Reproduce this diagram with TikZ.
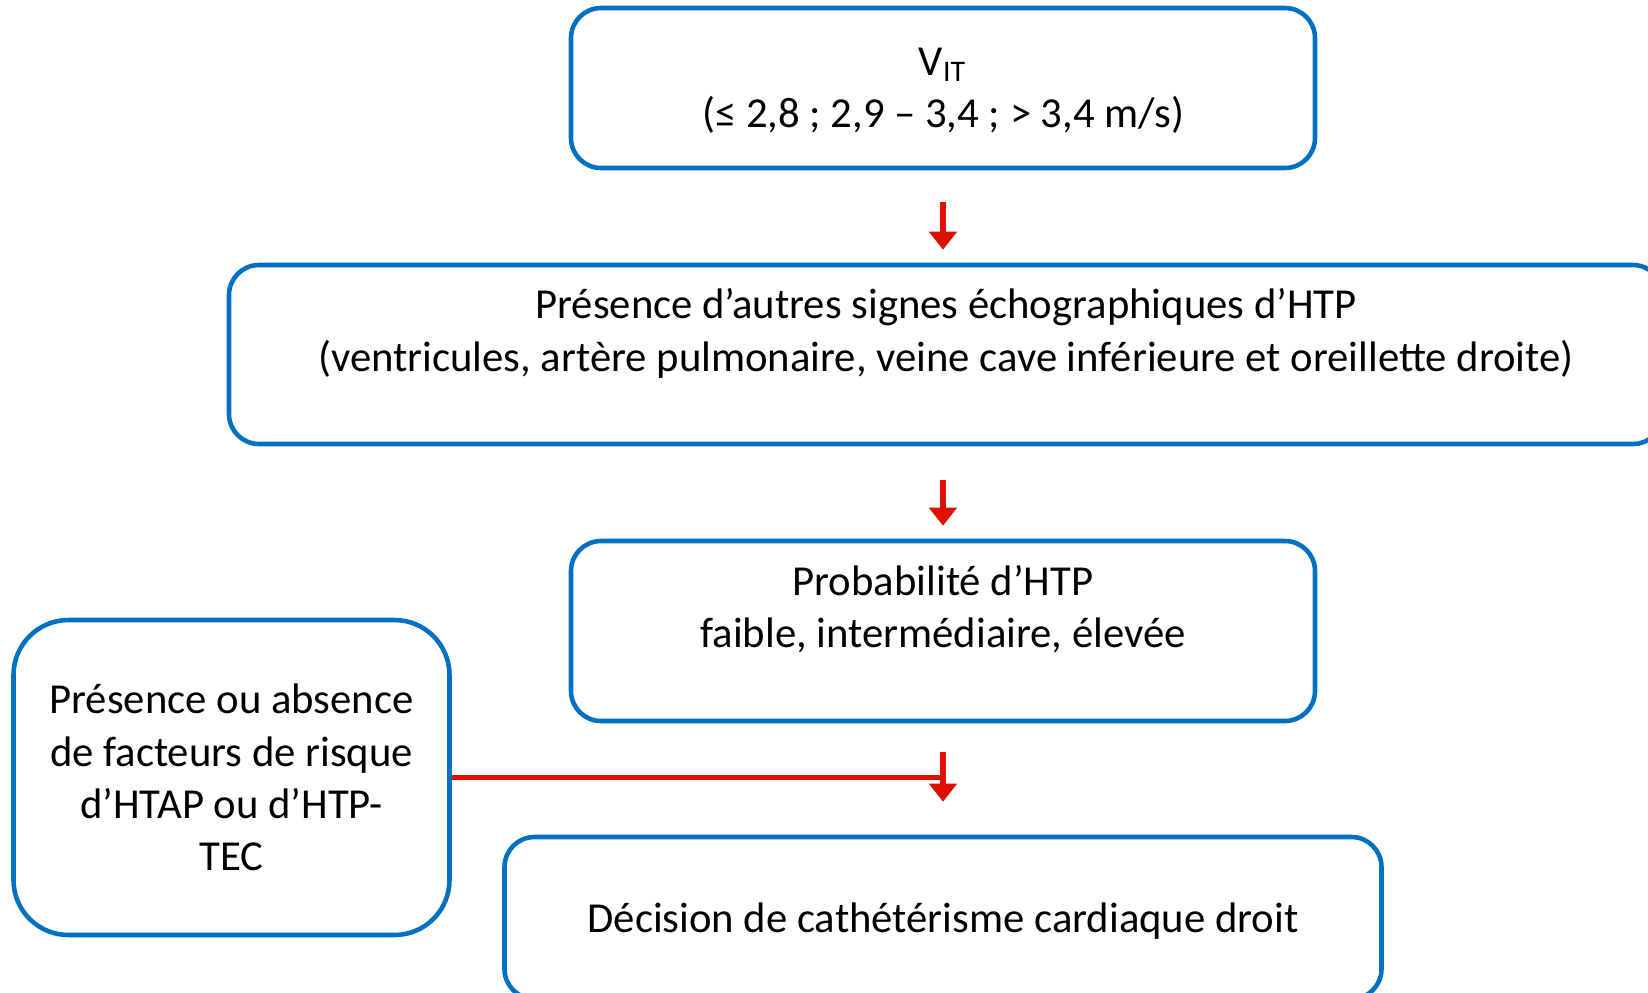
\documentclass[tikz,border=0pt]{standalone}
\usepackage{fontspec}
\setmainfont{Carlito}
\usetikzlibrary{positioning}
\usetikzlibrary{arrows.meta}
\definecolor{boxblue}{RGB}{0,112,192}
\definecolor{arrowred}{RGB}{221,17,0}
\tikzstyle{box} = [rectangle, rounded corners=0.3cm,
draw=boxblue,
line width=1.3pt,
fill=white,
text centered,
text depth=0pt,
align=center,
font=\fontsize{12.15}{14.9}\selectfont]
\tikzstyle{topbox} = [box, text depth=0.49cm] % text sits high in these two
\tikzstyle{sidebox} = [box, rounded corners=0.55cm]
\tikzstyle{arrow} = [arrowred, line width=1.6pt, -{Triangle[width=0.27cm, length=0.18cm]}]
\tikzstyle{line} = [arrowred, line width=1.6pt]

\begin{document}
\begin{tikzpicture}[node distance=2.75cm]
            \useasboundingbox (0,0) rectangle (16.48,-9.92);
            \clip (0,0) rectangle (16.48,-9.92);
            \node (vit) [box, minimum width=7.44cm, minimum height=1.6cm] at (9.43,-0.88) {V\textsubscript{IT}\\ (≤ 2,8 ; 2,9 – 3,4 ; > 3,4 m/s)};
            \node (signes) [topbox, below of=vit, xshift=0.03cm, yshift=0.085cm, minimum width=14.34cm, minimum height=1.79cm] {Présence d’autres signes échographiques d’HTP\\ (ventricules, artère pulmonaire, veine cave inférieure et oreillette droite)};
            \node (proba) [topbox, below of=signes, xshift=-0.03cm, yshift=-0.015cm, minimum width=7.44cm, minimum height=1.8cm] {Probabilité d’HTP\\ faible, intermédiaire, élevée};
            \node (decision) [box, below of=proba, yshift=-0.12cm, minimum width=8.77cm, minimum height=1.62cm] {Décision de cathétérisme cardiaque droit};
            \node (risque) [sidebox, left of=decision, xshift=-4.365cm, yshift=1.405cm, minimum width=4.36cm, minimum height=3.15cm, text depth=-0.06cm] {Présence ou absence\\ de facteurs de risque\\ d’HTAP ou d’HTP-\\ TEC};

            \draw [arrow] ([yshift=-0.32cm]vit.south) -- ([yshift=0.13cm]vit.south |- signes.north);
            \draw [arrow] ([yshift=-0.34cm]proba.north |- signes.south) -- ([yshift=0.13cm]proba.north);
            \draw [line] (risque.east) -- (risque.east -| proba.south);
            \draw [arrow] ([yshift=0.83cm]decision.north) -- ([yshift=0.33cm]decision.north);
        \end{tikzpicture}
\end{document}
